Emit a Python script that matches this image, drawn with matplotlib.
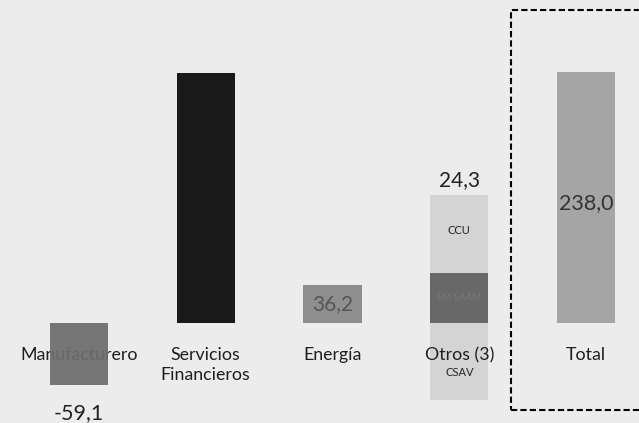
import matplotlib
matplotlib.use('Agg')
import matplotlib.pyplot as plt
from matplotlib.patches import Rectangle

plt.rcParams['font.family'] = ['Lato', 'DejaVu Sans']

categories = ['Manufacturero', 'Servicios\nFinancieros', 'Energía', 'Otros (3)', 'Total']
values = [-59.1, 236.6, 36.2, 24.3, 238.0]
value_labels = ['-59,1', '', '36,2', '24,3', '238,0']
colors = ['#6d6d6d', '#191919', '#8e8e8e', '#5e5e5e', '#a5a5a5']

# components shown inside "Otros (3)"
otros_parts = ['CCU', 'SM SAAM', 'CSAV']
otros_values = [74.0, 47.4, -73.0]


def main():
    fig = plt.figure(figsize=(6.39, 4.23), dpi=100)
    fig.patch.set_facecolor('#ececec')
    ax = fig.add_axes([0, 0, 1, 1])
    ax.set_facecolor('#ececec')

    x = list(range(len(categories)))
    w = 0.46

    # Otros: faded components behind the solid bar
    saam = otros_values[1]
    ax.bar(3, otros_values[0], width=w, bottom=saam, color='#d4d4d4', zorder=1)
    ax.bar(3, otros_values[2], width=w, bottom=0, color='#d4d4d4', zorder=1)
    ax.bar(3, saam, width=w, color=colors[3], alpha=0.93, zorder=3)

    for i in [0, 1, 2, 4]:
        ax.bar(x[i], values[i], width=w, color=colors[i], alpha=0.93 if i == 0 else 1, zorder=3)

    # category labels (drawn under the bars, as in the source slide)
    for i, name in enumerate(categories):
        ax.text(x[i], -23, name, ha='center', va='top', fontsize=12.8,
                color='#1e1e1e', zorder=2, linespacing=1.25)

    # value labels
    ax.text(x[0], -76, value_labels[0], ha='center', va='top', fontsize=15.5, color='#222222')
    ax.text(x[2], 18, value_labels[2], ha='center', va='center', fontsize=15, color='#555555', zorder=4)
    ax.text(x[3], otros_values[0] + saam + 5, value_labels[3], ha='center', va='bottom',
            fontsize=15, color='#222222')
    ax.text(x[4], 114, value_labels[4], ha='center', va='center', fontsize=15.5, color='#333333', zorder=4)

    # component labels in Otros
    ax.text(x[3], 88, otros_parts[0], ha='center', va='center', fontsize=8, color='#222222', zorder=4)
    ax.text(x[3], 24, otros_parts[1], ha='center', va='center', fontsize=7, color='#7a7a7a', zorder=4)
    ax.text(x[3], -47, otros_parts[2], ha='center', va='center', fontsize=8, color='#222222', zorder=4)

    ax.set_xlim(-0.623, 4.418)
    ax.set_ylim(-94.8, 306.2)
    ax.axis('off')

    box = Rectangle((0.8, 0.031), 0.25, 0.945, transform=ax.transAxes,
                    fill=False, edgecolor='black', linestyle=(0, (3, 1.5)),
                    linewidth=1.5, clip_on=False, zorder=5)
    ax.add_patch(box)

    fig.savefig('out.png', dpi=100, facecolor=fig.get_facecolor())


main()
